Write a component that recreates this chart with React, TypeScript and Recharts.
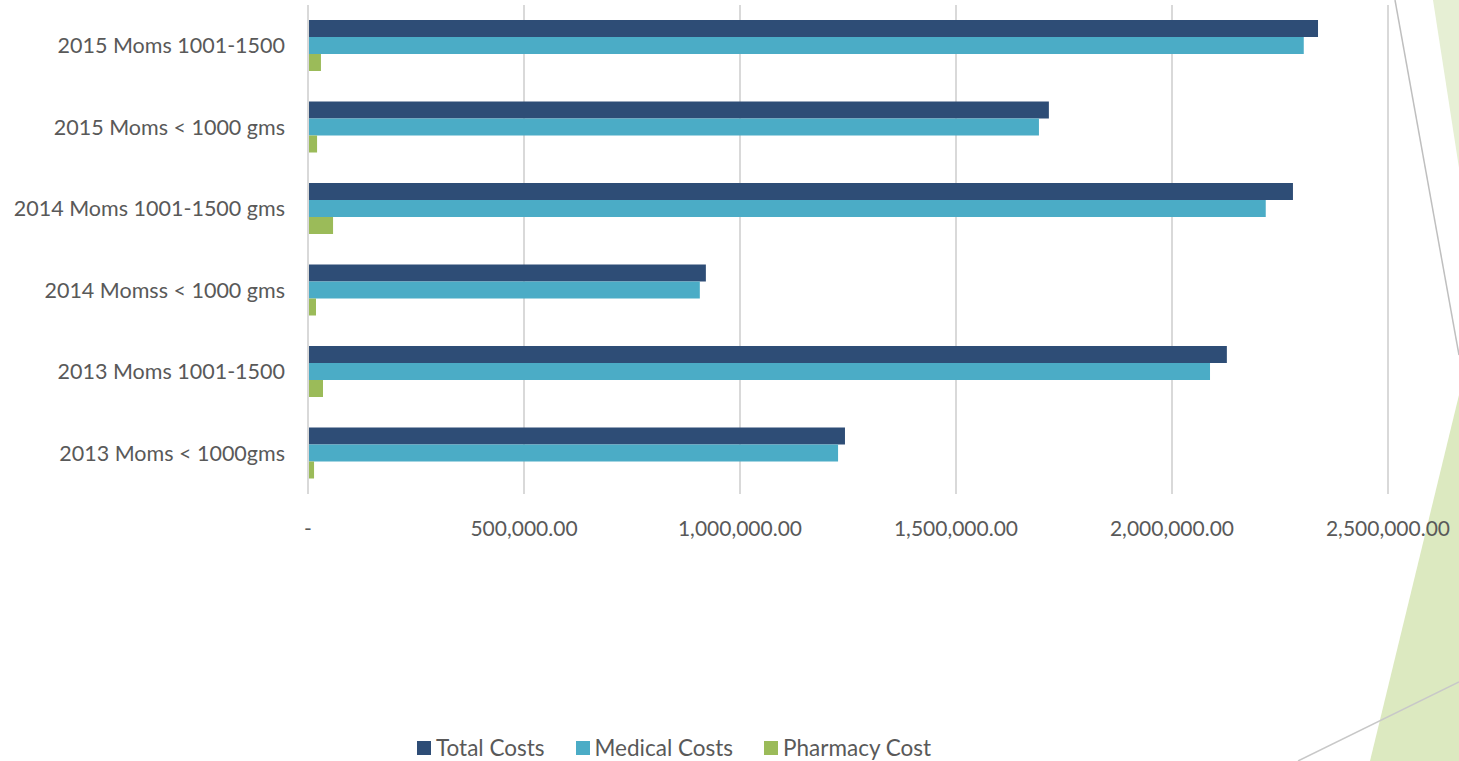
import { BarChart, Bar, XAxis, YAxis, CartesianGrid, Legend } from 'recharts';

const categories = [
    '2015 Moms 1001-1500',
    '2015 Moms < 1000 gms',
    '2014 Moms 1001-1500 gms',
    '2014 Momss < 1000 gms',
    '2013 Moms 1001-1500',
    '2013 Moms < 1000gms',
];
const totalCosts = [2338000, 1715000, 2280000, 921000, 2127000, 1243000];
const medicalCosts = [2305000, 1692000, 2217000, 907000, 2088000, 1227000];
const pharmacyCosts = [30000, 21000, 58000, 18500, 34700, 14000];
const xTicks = [0, 500000, 1000000, 1500000, 2000000, 2500000];

const SERIES = [
    { key: 'total', name: 'Total Costs', color: '#2E4D76' },
    { key: 'medical', name: 'Medical Costs', color: '#4BACC6' },
    { key: 'pharmacy', name: 'Pharmacy Cost', color: '#9BBB59' },
];

const FONT = 'Lato, "Open Sans", sans-serif';
const TEXT = '#595959';

const data = categories.map((name, i) => ({
    name,
    total: totalCosts[i],
    medical: medicalCosts[i],
    pharmacy: pharmacyCosts[i],
}));

const fmt = (v: number) =>
    v === 0 ? '-' : v.toLocaleString('en-US', { minimumFractionDigits: 2, maximumFractionDigits: 2 });

function LegendContent() {
    return (
        <div
            style={{
                display: 'flex',
                justifyContent: 'flex-start',
                fontFamily: FONT,
                fontSize: 22.5,
                color: TEXT,
                paddingTop: 8,
                paddingLeft: 409,
                lineHeight: '28px',
            }}
        >
            {SERIES.map((s, i) => (
                <div key={s.key} style={{ display: 'flex', alignItems: 'center', marginLeft: i === 0 ? 0 : 31 }}>
                    <span style={{ width: 14, height: 14, background: s.color, marginRight: 5, display: 'inline-block' }} />
                    {s.name}
                </div>
            ))}
        </div>
    );
}

function Decoration() {
    return (
        <svg width={1459} height={761} style={{ position: 'absolute', left: 0, top: 0 }}>
            <polygon points="1433,0 1459,0 1459,168" fill="#E6EFD4" />
            <polygon points="1459,395 1459,761 1370,761" fill="#DCE9C0" />
            <line x1={1395} y1={0} x2={1459} y2={355} stroke="#BFBFBF" strokeWidth={1.5} />
            <line x1={1298} y1={761} x2={1459} y2={682} stroke="#C8C8C8" strokeWidth={1.5} />
        </svg>
    );
}

export default function App() {
    return (
        <div style={{ position: 'absolute', left: 0, top: 0, width: 1459, height: 761, background: '#fff' }}>
            <Decoration />
            <div style={{ position: 'absolute', left: 0, top: 0 }}>
                <BarChart
                    width={1459}
                    height={761}
                    data={data}
                    layout="vertical"
                    margin={{ top: 5, right: 71, bottom: 5, left: 8 }}
                    barGap={0}
                    barSize={17}
                >
                    <CartesianGrid horizontal={false} stroke="#D9D9D9" strokeWidth={2} />
                    <XAxis
                        type="number"
                        domain={[0, 2500000]}
                        ticks={xTicks}
                        tickFormatter={fmt}
                        axisLine={false}
                        tickLine={false}
                        tickSize={0}
                        tickMargin={27}
                        height={232}
                        tick={{ fill: TEXT, fontSize: 21, fontFamily: FONT }}
                        interval={0}
                    />
                    <YAxis
                        type="category"
                        dataKey="name"
                        width={300}
                        axisLine={{ stroke: '#D9D9D9', strokeWidth: 2 }}
                        tickLine={false}
                        tickSize={0}
                        tickMargin={23}
                        tick={{ fill: TEXT, fontSize: 21.5, fontFamily: FONT }}
                    />
                    <Legend verticalAlign="bottom" height={30} content={<LegendContent />} />
                    {SERIES.map((s) => (
                        <Bar key={s.key} dataKey={s.key} name={s.name} fill={s.color} isAnimationActive={false} />
                    ))}
                </BarChart>
            </div>
        </div>
    );
}
